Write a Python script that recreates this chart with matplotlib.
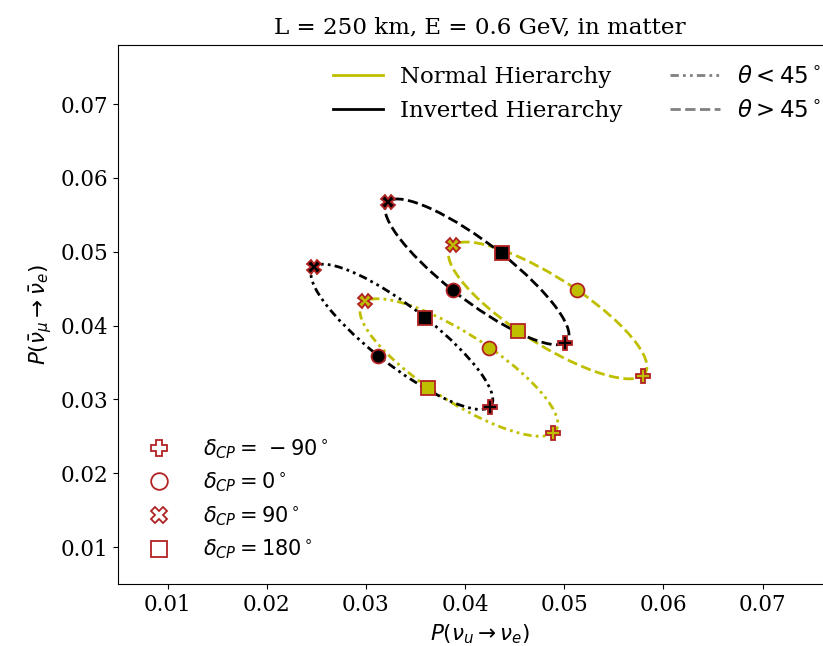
import numpy as np
import matplotlib
matplotlib.use("Agg")
import matplotlib.pyplot as plt
from matplotlib.patches import Circle
from matplotlib.lines import Line2D
from matplotlib.transforms import Affine2D

# delta_CP values for the four marked points on each curve
delta_cp = [-90, 0, 90, 180]
delta_markers = ['P', 'o', 'X', 's']

# points, order: -90, 0, 90, 180
nh_hi_x = [0.0579, 0.0513, 0.0388, 0.0453]
nh_hi_y = [0.0332, 0.0448, 0.0509, 0.0393]
ih_hi_x = [0.0501, 0.0388, 0.0322, 0.0437]
ih_hi_y = [0.0377, 0.0448, 0.0568, 0.0498]
nh_lo_x = [0.0489, 0.0424, 0.0299, 0.0363]
nh_lo_y = [0.0255, 0.0370, 0.0433, 0.0315]
ih_lo_x = [0.0425, 0.0312, 0.0248, 0.0360]
ih_lo_y = [0.0290, 0.0359, 0.0480, 0.0410]

ticks = [0.01, 0.02, 0.03, 0.04, 0.05, 0.06, 0.07]

nh_col = 'y'
ih_col = 'k'
edge_col = 'firebrick'
dashdotdot = (0, (3, 1.5, 1, 1.5, 1, 1.5))

plt.rcParams['font.family'] = 'DejaVu Serif'
plt.rcParams['mathtext.fontset'] = 'dejavusans'

fig = plt.figure(figsize=(8.23, 6.46), dpi=100)
# axes run past the right edge of the figure (cropped in the original)
ax = fig.add_axes([118 / 823, 62 / 646, 724 / 823, (584 - 45) / 646])


def draw_curve(xs, ys, color, ls):
    # the curve through the four delta points is an affine image of the unit circle
    cx, cy = np.mean(xs), np.mean(ys)
    ux, uy = (xs[1] - xs[3]) / 2, (ys[1] - ys[3]) / 2
    vx, vy = (xs[2] - xs[0]) / 2, (ys[2] - ys[0]) / 2
    aff = Affine2D.from_values(ux, uy, vx, vy, cx, cy)
    c = Circle((0, 0), 1, fill=False, edgecolor=color, linestyle=ls, linewidth=2,
               transform=aff + ax.transData, zorder=2)
    ax.add_patch(c)
    for i in range(4):
        ax.plot(xs[i], ys[i], marker=delta_markers[i], color=color, markeredgecolor=edge_col,
                markersize=10, markeredgewidth=1.3, linestyle='none', zorder=3)


draw_curve(nh_lo_x, nh_lo_y, nh_col, dashdotdot)
draw_curve(nh_hi_x, nh_hi_y, nh_col, '--')
draw_curve(ih_lo_x, ih_lo_y, ih_col, dashdotdot)
draw_curve(ih_hi_x, ih_hi_y, ih_col, '--')

ax.set_xlim(0.005, 0.078)
ax.set_ylim(0.005, 0.078)
ax.set_xticks(ticks)
ax.set_yticks(ticks)
ax.tick_params(labelsize=15.5)
ax.set_xlabel(r'$P(\nu_u \to \nu_e)$', fontsize=15.5, labelpad=5)
ax.set_ylabel(r'$P(\bar{\nu}_\mu \to \bar{\nu}_e)$', fontsize=15.5, labelpad=4)
ax.set_title('L = 250 km, E = 0.6 GeV, in matter', fontsize=16.6, pad=8)

# hierarchy / octant legend
h1 = [Line2D([], [], color=nh_col, lw=2), Line2D([], [], color=ih_col, lw=2),
      Line2D([], [], color='gray', lw=2, linestyle=dashdotdot),
      Line2D([], [], color='gray', lw=2, linestyle='--')]
l1 = ['Normal Hierarchy', 'Inverted Hierarchy', r'$\theta < 45^\circ$', r'$\theta > 45^\circ$']
leg1 = ax.legend(h1, l1, ncol=2, loc='upper left', bbox_to_anchor=(0.268, 1.0),
                 frameon=False, fontsize=16.5, columnspacing=2.1, handlelength=2.18,
                 handletextpad=0.74, labelspacing=0.55)
ax.add_artist(leg1)

# delta_CP legend
h2 = [Line2D([], [], marker=m, color=edge_col, markerfacecolor='none', linestyle='none',
             markersize=12, markeredgewidth=1.3) for m in delta_markers]
l2 = [r'$\delta_{CP} = \,%d^\circ$' % d if d < 0 else r'$\delta_{CP} = %d^\circ$' % d
      for d in delta_cp]
ax.legend(h2, l2, loc='lower left', frameon=False, fontsize=15, handletextpad=1.1,
          labelspacing=0.48, bbox_to_anchor=(0.002, 0.007))

fig.savefig('out.png', dpi=100)
